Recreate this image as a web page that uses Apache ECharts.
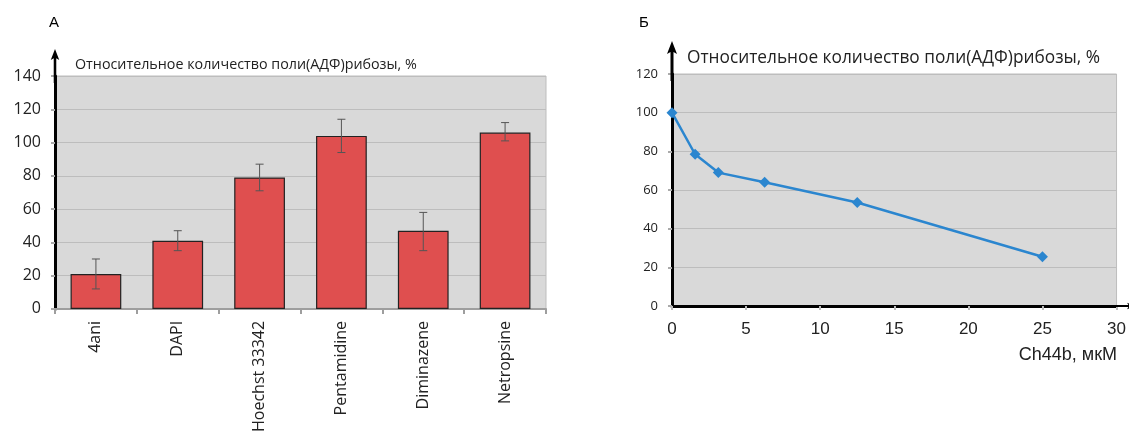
<!DOCTYPE html>
<html><head><meta charset="utf-8">
<script src="https://cdn.jsdelivr.net/npm/echarts@6/dist/echarts.min.js"></script>
<style>html,body{margin:0;padding:0;background:#fff}#c{width:1129px;height:435px}</style>
</head><body><div id="c"></div>
<script>
const categories = ['4ani', 'DAPI', 'Hoechst 33342', 'Pentamidine', 'Diminazene', 'Netropsine'];
const barValues = [21, 41, 79, 104, 47, 106];
const errLow = [12, 35, 71, 94, 35, 101];
const errHigh = [30, 47, 87, 114, 58, 112];
const concentrations = [0, 1.56, 3.125, 6.25, 12.5, 25];
const lineValues = [100, 78.5, 69, 64, 53.5, 25.5];
const yNameText = 'Относительное количество поли(АДФ)рибозы, %';
const xNameText = 'Ch44b, мкМ';

const arrowPath = 'path://M5,0 L10,13 L6.5,11 L6.5,40 L3.5,40 L3.5,11 L0,13 Z';
const chart = echarts.init(document.getElementById('c'));
const gridBg = '#d9d9d9';
const splitColor = '#bdbdbd';
chart.setOption({
  animation: false,
  title: [
    {text: 'А', left: 44, top: 10, textStyle: {fontFamily: 'Liberation Sans', fontSize: 15, fontWeight: 'normal', color: '#000'}},
    {text: 'Б', left: 634, top: 10, textStyle: {fontFamily: 'Liberation Sans', fontSize: 15, fontWeight: 'normal', color: '#000'}},
    {text: yNameText, left: 70, top: 53, textStyle: {fontFamily: 'Open Sans', fontSize: 14.3, fontWeight: 'normal', color: '#222'}},
    {text: yNameText, left: 682, top: 45, textStyle: {fontFamily: 'Open Sans', fontSize: 17.3, fontWeight: 'normal', color: '#222'}},
    {text: xNameText, right: 7, top: 341, textStyle: {fontFamily: 'Liberation Sans', fontSize: 18, fontWeight: 'normal', color: '#222'}}
  ],
  grid: [
    {left: 55, top: 76, width: 491, height: 233, show: true, backgroundColor: gridBg, borderColor: splitColor, borderWidth: 1, containLabel: false},
    {left: 672, top: 74, width: 446, height: 232, show: true, backgroundColor: gridBg, borderColor: splitColor, borderWidth: 1, containLabel: false}
  ],
  xAxis: [
    {gridIndex: 0, type: 'category', data: categories,
     axisLine: {lineStyle: {color: '#9e9e9e', width: 2}},
     axisTick: {show: true, length: 5, lineStyle: {color: '#9e9e9e', width: 2}},
     axisLabel: {rotate: 90, margin: 12, fontFamily: 'Open Sans', fontSize: 16, color: '#222'},
     splitLine: {show: false}},
    {gridIndex: 1, type: 'value', min: 0, max: 30, interval: 5,
     axisLine: {lineStyle: {color: '#000', width: 3}, symbol: ['none', arrowPath], symbolSize: [11, 26], symbolOffset: [0, 6]},
     axisTick: {show: true, length: 4, lineStyle: {color: '#bbb', width: 2}},
     axisLabel: {margin: 15, fontFamily: 'Liberation Sans', fontSize: 17, color: '#222'},
     splitLine: {show: false}}
  ],
  yAxis: [
    {gridIndex: 0, type: 'value', min: 0, max: 140, interval: 20,
     axisLine: {show: true, lineStyle: {color: '#000', width: 3}, symbol: ['none', arrowPath], symbolSize: [11, 34], symbolOffset: [0, 10]},
     axisTick: {show: true, length: 4, lineStyle: {color: '#aaa', width: 2}},
     axisLabel: {margin: 14, fontFamily: 'Open Sans', fontSize: 16, color: '#222'},
     splitLine: {lineStyle: {color: splitColor, width: 1}}},
    {gridIndex: 1, type: 'value', min: 0, max: 120, interval: 20,
     axisLine: {show: true, lineStyle: {color: '#000', width: 3}, symbol: ['none', arrowPath], symbolSize: [11, 40], symbolOffset: [0, 13]},
     axisTick: {show: true, length: 4, lineStyle: {color: '#aaa', width: 2}},
     axisLabel: {margin: 14, fontFamily: 'Open Sans', fontSize: 13, color: '#222'},
     splitLine: {lineStyle: {color: splitColor, width: 1}}}
  ],
  series: [
    {type: 'bar', xAxisIndex: 0, yAxisIndex: 0, data: barValues, barCategoryGap: '38%',
     itemStyle: {color: '#df4f4f', borderColor: '#222', borderWidth: 1.2}},
    {type: 'custom', xAxisIndex: 0, yAxisIndex: 0,
     data: categories.map((c, i) => [i, errLow[i], errHigh[i]]),
     encode: {x: 0, y: [1, 2]}, z: 5,
     renderItem: function (params, api) {
       const lo = api.coord([api.value(0), api.value(1)]);
       const hi = api.coord([api.value(0), api.value(2)]);
       const w = 4;
       const style = {stroke: '#555', lineWidth: 1};
       return {type: 'group', children: [
         {type: 'line', shape: {x1: lo[0], y1: lo[1], x2: hi[0], y2: hi[1]}, style},
         {type: 'line', shape: {x1: hi[0] - w, y1: hi[1], x2: hi[0] + w, y2: hi[1]}, style},
         {type: 'line', shape: {x1: lo[0] - w, y1: lo[1], x2: lo[0] + w, y2: lo[1]}, style}
       ]};
     }},
    {type: 'line', xAxisIndex: 1, yAxisIndex: 1,
     data: concentrations.map((x, i) => [x, lineValues[i]]),
     symbol: 'diamond', symbolSize: 11,
     lineStyle: {color: '#2b86cf', width: 2.5},
     itemStyle: {color: '#2b86cf'}}
  ]
});
</script></body></html>
